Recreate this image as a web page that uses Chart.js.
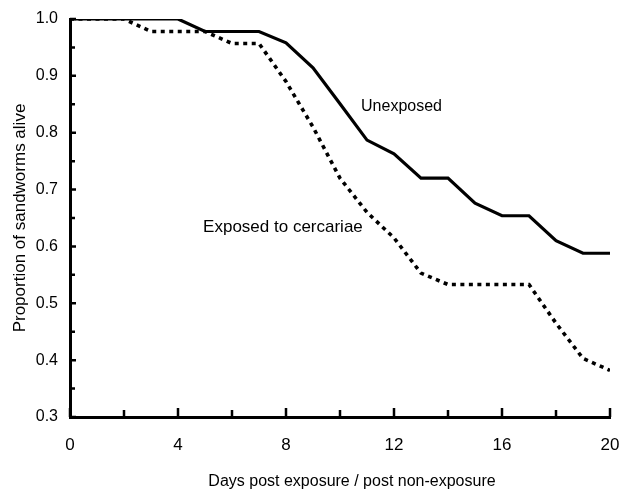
<!DOCTYPE html>
<html>
<head>
<meta charset="utf-8">
<script src="https://cdn.jsdelivr.net/npm/chart.js@4/dist/chart.umd.min.js"></script>
<style>
  html, body { margin: 0; padding: 0; background: #fff; }
  #wrap { width: 620px; height: 490px; position: relative; }
</style>
</head>
<body>
<div id="wrap"><canvas id="c" width="620" height="490"></canvas></div>
<script>
const days = [0,1,2,3,4,5,6,7,8,9,10,11,12,13,14,15,16,17,18,19,20];
const unexposed = [1,1,1,1,1,0.978,0.978,0.978,0.958,0.914,0.851,0.787,0.763,0.72,0.72,0.676,0.654,0.654,0.61,0.588,0.588];
const exposed = [1,1,1,0.978,0.978,0.978,0.957,0.957,0.89,0.81,0.72,0.66,0.615,0.553,0.533,0.533,0.533,0.533,0.465,0.403,0.382];
const xTicks = [0,4,8,12,16,20];
const xMinorTicks = [2,6,10,14,18];
const yTicks = [0.3,0.4,0.5,0.6,0.7,0.8,0.9,1.0];
const yMinorTicks = [0.35,0.45,0.55,0.65,0.75,0.85,0.95];
const seriesNames = ['Unexposed','Exposed to cercariae'];
const labelPos = [{x:10.78, y:0.846}, {x:4.93, y:0.633}];
const xTitle = 'Days post exposure / post non-exposure';
const yTitle = 'Proportion of sandworms alive';

const FONT = "'Liberation Sans', Arial, sans-serif";

const tickPlugin = {
  id: 'inwardTicks',
  afterDatasetsDraw(chart) {
    const ctx = chart.ctx;
    const xs = chart.scales.x, ys = chart.scales.y;
    const left = xs.left, bottom = ys.bottom;
    ctx.save();
    ctx.strokeStyle = '#000';
    ctx.lineWidth = 2.5;
    ctx.beginPath();
    xTicks.forEach(v => { const p = xs.getPixelForValue(v); ctx.moveTo(p, bottom); ctx.lineTo(p, bottom - 9); });
    xMinorTicks.forEach(v => { const p = xs.getPixelForValue(v); ctx.moveTo(p, bottom); ctx.lineTo(p, bottom - 7); });
    yTicks.forEach(v => { const p = ys.getPixelForValue(v); ctx.moveTo(left, p); ctx.lineTo(left + 6, p); });
    yMinorTicks.forEach(v => { const p = ys.getPixelForValue(v); ctx.moveTo(left, p); ctx.lineTo(left + 5, p); });
    ctx.stroke();
    ctx.fillStyle = '#000';
    ctx.textAlign = 'left';
    ctx.textBaseline = 'middle';
    ctx.font = '16px ' + FONT;
    ctx.fillText(seriesNames[0], xs.getPixelForValue(labelPos[0].x), ys.getPixelForValue(labelPos[0].y));
    ctx.font = '17px ' + FONT;
    ctx.fillText(seriesNames[1], xs.getPixelForValue(labelPos[1].x), ys.getPixelForValue(labelPos[1].y));
    ctx.font = '16px ' + FONT;
    ctx.textAlign = 'center';
    ctx.fillText(xTitle, 352, 482);
    ctx.restore();
  }
};

new Chart(document.getElementById('c'), {
  type: 'line',
  data: {
    datasets: [
      { label: seriesNames[0], data: days.map((d, i) => ({x: d, y: unexposed[i]})),
        borderColor: '#000', borderWidth: 3.2, pointRadius: 0, tension: 0, fill: false },
      { label: seriesNames[1], data: days.map((d, i) => ({x: d, y: exposed[i]})),
        borderColor: '#000', borderWidth: 3.6, borderDash: [4, 4.5], pointRadius: 0, tension: 0, fill: false }
    ]
  },
  options: {
    responsive: false,
    animation: false,
    devicePixelRatio: 1,
    layout: { padding: { left: 0, top: 19, right: 10, bottom: 0 } },
    plugins: { legend: { display: false }, tooltip: { enabled: false } },
    scales: {
      x: {
        type: 'linear', min: 0, max: 20,
        afterBuildTicks: s => { s.ticks = xTicks.map(v => ({value: v})); },
        afterFit: s => { s.height = 73; s.paddingLeft = 0; s.paddingRight = 0; },
        grid: { display: false, drawTicks: false },
        border: { display: true, color: '#000', width: 3 },
        ticks: { color: '#000', font: { family: FONT, size: 17 }, padding: 18, maxRotation: 0, autoSkip: false },
        title: { display: false }
      },
      y: {
        type: 'linear', min: 0.3, max: 1.0,
        afterBuildTicks: s => { s.ticks = yTicks.map(v => ({value: v})); },
        afterFit: s => { s.width = 70; s.paddingTop = 0; s.paddingBottom = 0; },
        grid: { display: false, drawTicks: false },
        border: { display: true, color: '#000', width: 3 },
        ticks: { color: '#000', font: { family: FONT, size: 16 }, padding: 12,
                 callback: v => v.toFixed(1) },
        title: { display: true, text: yTitle, color: '#000',
                 font: { family: FONT, size: 17 }, padding: { top: 10, bottom: 0 } }
      }
    }
  },
  plugins: [tickPlugin]
});
</script>
</body>
</html>
